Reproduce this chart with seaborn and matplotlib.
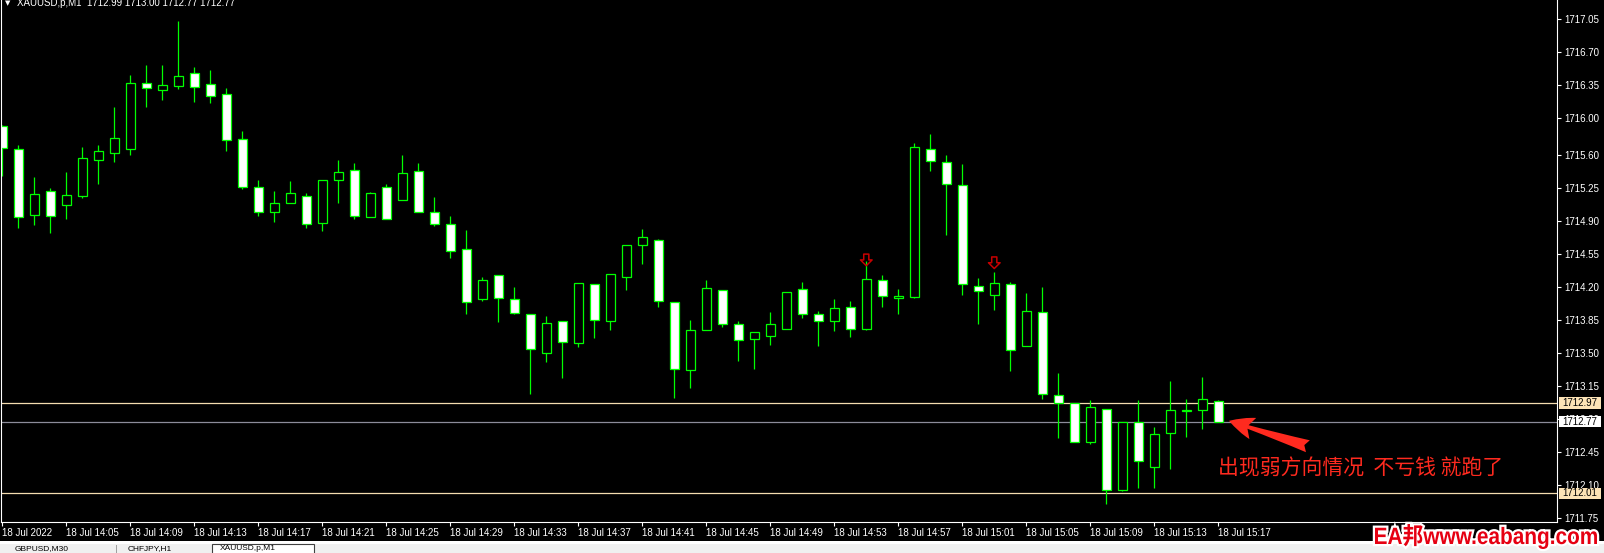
import matplotlib
matplotlib.use("Agg")
import matplotlib.pyplot as plt
from matplotlib.path import Path
from matplotlib.patches import Rectangle, PathPatch
from matplotlib.textpath import TextPath
from matplotlib.font_manager import FontProperties
from matplotlib.transforms import Affine2D
import matplotlib.patheffects as pe
import numpy as np
import pandas as pd
import seaborn as sns

# ------------------------------------------------------------------ data
opens = [1715.91, 1715.67, 1714.97, 1715.22, 1715.07, 1715.17, 1715.55, 1715.63, 1715.67, 1716.37,
         1716.30, 1716.34, 1716.48, 1716.36, 1716.25, 1715.77, 1715.26, 1715.00, 1715.10, 1715.17,
         1714.88, 1715.34, 1715.45, 1714.95, 1715.27, 1715.13, 1715.44, 1715.00, 1714.87, 1714.61,
         1714.07, 1714.33, 1714.08, 1713.92, 1713.50, 1713.84, 1713.61, 1714.23, 1713.84, 1714.31,
         1714.65, 1714.70, 1714.04, 1713.32, 1713.75, 1714.17, 1713.81, 1713.65, 1713.68, 1713.76,
         1714.18, 1713.92, 1713.84, 1713.99, 1713.76, 1714.28, 1714.09, 1714.10, 1715.67, 1715.53,
         1715.29, 1714.21, 1714.12, 1714.23, 1713.58, 1713.94, 1713.05, 1712.97, 1712.55, 1712.91,
         1712.04, 1712.77, 1712.29, 1712.65, 1712.88, 1712.89, 1712.99]
highs = [1715.92, 1715.71, 1715.37, 1715.25, 1715.42, 1715.69, 1715.71, 1716.11, 1716.45, 1716.56,
         1716.56, 1717.03, 1716.54, 1716.51, 1716.32, 1715.86, 1715.34, 1715.22, 1715.33, 1715.20,
         1715.34, 1715.55, 1715.52, 1715.21, 1715.30, 1715.60, 1715.52, 1715.16, 1714.96, 1714.81,
         1714.31, 1714.33, 1714.20, 1713.92, 1713.89, 1713.84, 1714.25, 1714.23, 1714.34, 1714.65,
         1714.82, 1714.71, 1714.04, 1713.85, 1714.28, 1714.17, 1713.84, 1713.72, 1713.94, 1714.15,
         1714.26, 1713.95, 1714.07, 1714.05, 1714.48, 1714.33, 1714.18, 1715.73, 1715.83, 1715.60,
         1715.51, 1714.30, 1714.36, 1714.26, 1714.14, 1714.20, 1713.29, 1712.97, 1713.00, 1712.91,
         1712.77, 1713.00, 1712.71, 1713.20, 1713.01, 1713.25, 1713.00]
lows = [1715.38, 1714.83, 1714.86, 1714.78, 1714.93, 1715.15, 1715.30, 1715.53, 1715.61, 1716.12,
        1716.19, 1716.31, 1716.17, 1716.16, 1715.65, 1715.24, 1714.96, 1714.89, 1715.10, 1714.83,
        1714.80, 1715.10, 1714.93, 1714.95, 1714.92, 1715.13, 1715.00, 1714.85, 1714.51, 1713.91,
        1714.05, 1713.83, 1713.92, 1713.07, 1713.40, 1713.23, 1713.56, 1713.66, 1713.75, 1714.17,
        1714.45, 1713.99, 1713.02, 1713.13, 1713.74, 1713.78, 1713.42, 1713.33, 1713.59, 1713.76,
        1713.87, 1713.57, 1713.73, 1713.67, 1713.74, 1713.99, 1713.91, 1714.09, 1715.43, 1714.75,
        1714.12, 1713.81, 1713.96, 1713.31, 1713.57, 1713.01, 1712.60, 1712.55, 1712.53, 1711.90,
        1712.03, 1712.07, 1712.07, 1712.27, 1712.61, 1712.69, 1712.77]
closes = [1715.68, 1714.95, 1715.19, 1714.96, 1715.18, 1715.57, 1715.65, 1715.79, 1716.37, 1716.32,
          1716.35, 1716.44, 1716.33, 1716.23, 1715.76, 1715.27, 1715.00, 1715.10, 1715.20, 1714.87,
          1715.34, 1715.42, 1714.96, 1715.20, 1714.93, 1715.41, 1715.00, 1714.87, 1714.59, 1714.04,
          1714.28, 1714.09, 1713.93, 1713.54, 1713.82, 1713.62, 1714.25, 1713.85, 1714.34, 1714.65,
          1714.73, 1714.05, 1713.33, 1713.75, 1714.19, 1713.81, 1713.64, 1713.72, 1713.81, 1714.15,
          1713.91, 1713.84, 1713.98, 1713.76, 1714.29, 1714.11, 1714.11, 1715.69, 1715.54, 1715.30,
          1714.23, 1714.16, 1714.25, 1713.53, 1713.95, 1713.07, 1712.97, 1712.55, 1712.93, 1712.05,
          1712.77, 1712.35, 1712.64, 1712.90, 1712.89, 1713.01, 1712.77]

time_labels = ["18 Jul 2022", "18 Jul 14:05", "18 Jul 14:09", "18 Jul 14:13", "18 Jul 14:17",
               "18 Jul 14:21", "18 Jul 14:25", "18 Jul 14:29", "18 Jul 14:33", "18 Jul 14:37",
               "18 Jul 14:41", "18 Jul 14:45", "18 Jul 14:49", "18 Jul 14:53", "18 Jul 14:57",
               "18 Jul 15:01", "18 Jul 15:05", "18 Jul 15:09", "18 Jul 15:13", "18 Jul 15:17"]
price_ticks = [1717.05, 1716.70, 1716.35, 1716.00, 1715.60, 1715.25, 1714.90, 1714.55,
               1714.20, 1713.85, 1713.50, 1713.15, 1712.80, 1712.45, 1712.10, 1711.75]
level_prices = [1712.97, 1712.77, 1712.01]
level_kinds = ["order", "bid", "order"]
signal_bars = [54, 62]
signal_prices = [1714.49, 1714.46]
title_text = "XAUUSD,p,M1  1712.99 1713.00 1712.77 1712.77"
note_text = "出现弱方向情况  不亏钱 就跑了"
watermark_text = "EA邦www.eabang.com"
tab_names = ["GBPUSD,M30", "CHFJPY,H1", "XAUUSD,p,M1"]

# ------------------------------------------------------------------ style
SANS = "Liberation Sans"
CJK = "Noto Sans CJK SC"
GREEN = "#00FF00"
RED = "#FF2A1F"

sns.set_theme(style="dark", rc={
    "axes.facecolor": "black", "figure.facecolor": "black", "savefig.facecolor": "black",
    "axes.edgecolor": "white", "text.color": "white",
    "xtick.color": "white", "ytick.color": "white",
    "xtick.bottom": True, "ytick.right": True, "axes.grid": False,
})
plt.rcParams["font.family"] = [SANS, CJK, "DejaVu Sans"]

df = pd.DataFrame({"bar": np.arange(len(opens)), "open": opens, "high": highs,
                   "low": lows, "close": closes})
df["body_lo"] = df[["open", "close"]].min(axis=1)
df["body_h"] = (df["close"] - df["open"]).abs().clip(lower=0.01)
df["fill"] = np.where(df["close"] > df["open"], "black", "white")

W, H = 1604, 553
fig = plt.figure(figsize=(W / 100, H / 100), dpi=100)
ax = fig.add_axes([1 / W, 31 / H, 1556 / W, 522 / H])
ax.set_facecolor("black")

# wicks
ax.vlines(df["bar"], df["low"], df["high"], color=GREEN, lw=0.9, zorder=1)

# bodies through seaborn
n0 = len(ax.patches)
sns.barplot(x=df["bar"].to_numpy(), y=df["body_h"].to_numpy(), bottom=df["body_lo"].to_numpy(),
            native_scale=True, orient="x", width=0.58, errorbar=None, color="white",
            edgecolor=GREEN, linewidth=0.9, zorder=2, ax=ax)
for patch, fc in zip(ax.patches[n0:], df["fill"]):
    patch.set_facecolor(fc)
    patch.set_edgecolor(GREEN)

# horizontal levels with price boxes on the scale
level_style = {"order": ("#F5DDB0", "#FCE3B6"), "bid": ("#8C8C9A", "#FFFFFF")}
ylo, yhi = 1711.705, 1717.252
px_per_price = 522 / (yhi - ylo)
for p, k in zip(level_prices, level_kinds):
    lc, bc = level_style[k]
    ax.axhline(p, color=lc, lw=0.9, zorder=0.8)
    box = Rectangle((1 + 2.5 / 1556, p - 5.6 / px_per_price), 42 / 1556, 11.2 / px_per_price,
                    transform=ax.get_yaxis_transform(), fc=bc, ec="none",
                    clip_on=False, zorder=9)
    ax.add_patch(box)
    ax.text(1 + 5.5 / 1556, p, f"{p:.2f}", transform=ax.get_yaxis_transform(),
            ha="left", va="center", fontsize=7, color="black", clip_on=False, zorder=10)

# signal arrows
arrow_path = Path([(-0.22, 0.5), (0.22, 0.5), (0.22, 0.0), (0.5, 0.0), (0.0, -0.5),
                   (-0.5, 0.0), (-0.22, 0.0), (-0.22, 0.5)],
                  [Path.MOVETO] + [Path.LINETO] * 6 + [Path.CLOSEPOLY])
ax.scatter(signal_bars, signal_prices, marker=arrow_path, s=70, facecolors="none",
           edgecolors="#C80000", linewidths=1.1, zorder=5)

# note + arrow
ax.text(76, 1712.27, note_text, fontsize=15, color=RED, va="center", ha="left",
        family=[CJK, "DejaVu Sans"], zorder=6)
ax.annotate("", xy=(76.67, 1712.78), xytext=(81.6, 1712.51),
            arrowprops=dict(arrowstyle="fancy,head_length=0.9,head_width=0.8,tail_width=0.45",
                            fc=RED, ec=RED, lw=0, shrinkA=0, shrinkB=0, mutation_scale=20),
            zorder=6)

# axes
ax.set_xlim(-0.08, 97.17)
ax.set_ylim(ylo, yhi)
ax.yaxis.tick_right()
ax.set_yticks(price_ticks)
ax.set_yticklabels([f"{v:.2f}" for v in price_ticks])
ax.tick_params(axis="y", colors="white", labelsize=7, length=3, width=0.8, pad=2,
               direction="out", left=False, right=True, labelleft=False, labelright=True)
ax.set_xticks(list(range(0, len(opens), 4)))
ax.set_xticklabels(time_labels, ha="left", fontsize=7)
ax.tick_params(axis="x", colors="white", length=3, width=0.8, pad=1.5, direction="out")
ax.set_xlabel("")
ax.set_ylabel("")
ax.grid(False)
for side in ["left", "bottom", "right"]:
    ax.spines[side].set_visible(True)
    ax.spines[side].set_color("white")
    ax.spines[side].set_linewidth(0.8)
ax.spines["top"].set_visible(False)

# title line
fig.text(5 / W, 1 - 5 / H, "▼", fontsize=5, color="white", va="baseline",
         family=["DejaVu Sans"])
fig.text(17 / W, 1 - 6 / H, title_text, fontsize=7, color="white", va="baseline")

# bottom frame and tab bar
fig.add_artist(Rectangle((0, 9 / H), 1, 3 / H, transform=fig.transFigure,
                         fc="white", ec="none"))
fig.add_artist(Rectangle((0, 0), 1, 9 / H, transform=fig.transFigure,
                         fc="#F0F0F0", ec="none"))
fig.add_artist(Rectangle((212 / W, -0.01), 102 / W, 9.5 / H + 0.01, transform=fig.transFigure,
                         fc="white", ec="#404040", lw=0.8))
fig.add_artist(Rectangle((116 / W, 0), 0.8 / W, 8 / H, transform=fig.transFigure,
                         fc="#A0A0A0", ec="none"))
for name, xpx in zip(tab_names, [15, 128, 220]):
    fig.text(xpx / W, 0.5 / H, name, fontsize=6, color="black", va="bottom", ha="left")

# watermark (condensed by scaling the glyph outlines)
fp = FontProperties(family=[SANS, CJK, "DejaVu Sans"], weight="bold")
tp = TextPath((0, 0), watermark_text, size=20, prop=fp)
ext = tp.get_extents()
sx = 222 / ext.width
sy = 25 / ext.height
tr = Affine2D().translate(-ext.x0, -ext.y0).scale(sx, sy).translate(1375, 553 - 549)
wm = PathPatch(tp, fc="#E60012", ec="none", transform=tr, zorder=20,
               path_effects=[pe.withStroke(linewidth=3.2, foreground="white")])
fig.add_artist(wm)

fig.savefig("out.png", dpi=100, facecolor="black")
